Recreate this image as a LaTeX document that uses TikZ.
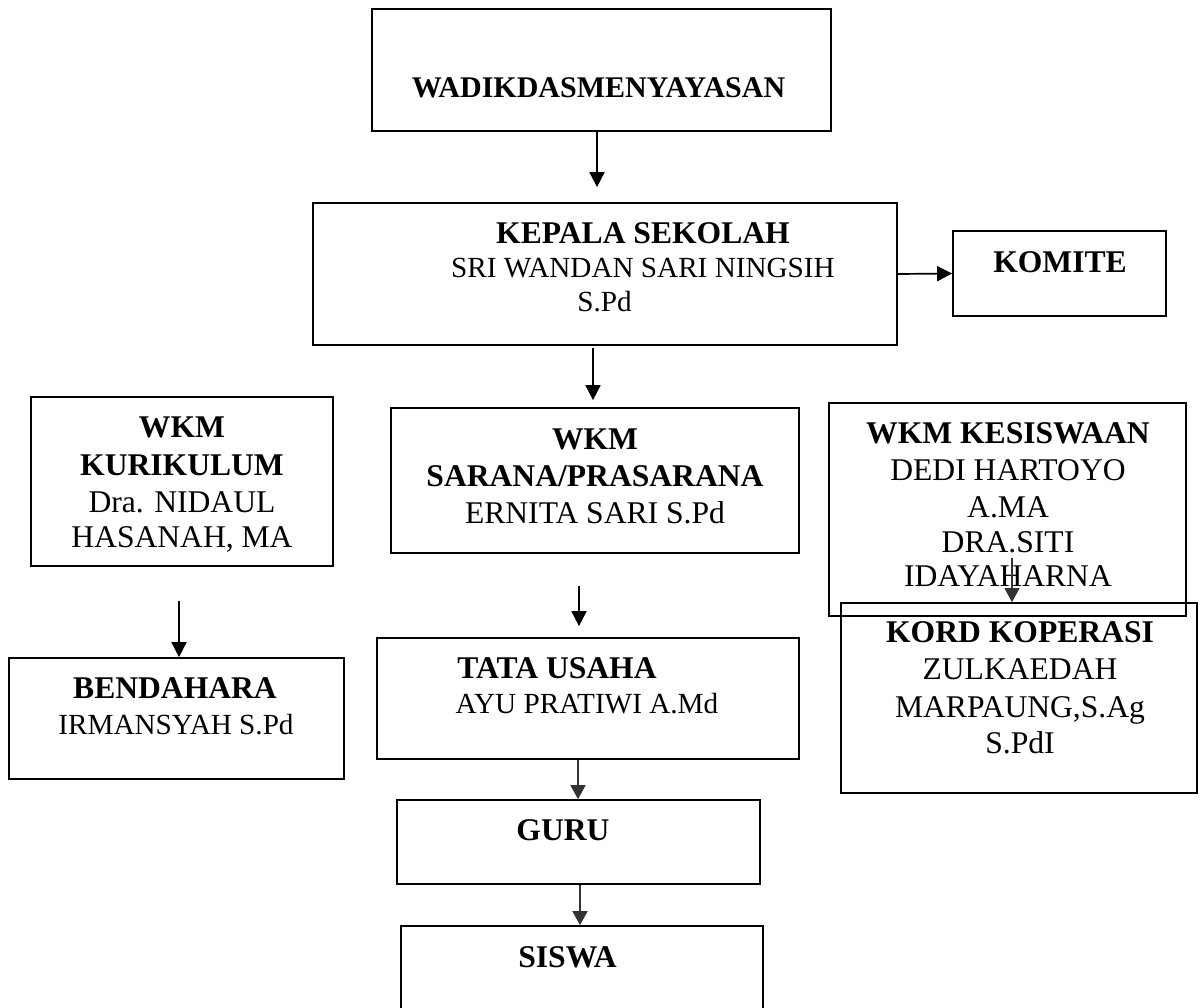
\documentclass[tikz,border=0pt]{standalone}
\usepackage{fontspec}
\setmainfont{Liberation Serif}
\usetikzlibrary{arrows.meta}
\begin{document}
\begin{tikzpicture}[x=0.5pt,y=-0.5pt,
  box/.style={draw, line width=0.85pt, inner sep=0pt, rectangle},
  arr/.style={line width=0.85pt, -{Triangle[length=7.5pt,width=7.5pt]}},
  arrg/.style={line width=0.85pt, draw=black!80, -{Triangle[length=7pt,width=7.5pt]}},
  tB/.style={anchor=base, inner sep=0pt, font=\fontsize{15.8}{19}\selectfont\bfseries},
  tR/.style={anchor=base, inner sep=0pt, font=\fontsize{15.8}{19}\selectfont},
  tS/.style={anchor=base, inner sep=0pt, font=\fontsize{14.6}{18}\selectfont},
  tW/.style={anchor=base, inner sep=0pt, font=\fontsize{15}{18}\selectfont\bfseries}]
\useasboundingbox (0,0) rectangle (1203,1007);
\clip (0,0) rectangle (1203,1007);
% boxes
\node[box, minimum width=229.5pt, minimum height=61pt] (wadik) at (601.5,70) {};
\node[box, minimum width=292pt, minimum height=71pt] (kepala) at (605,274) {};
\node[box, minimum width=106.5pt, minimum height=42.5pt] (komite) at (1059.5,273.5) {};
\node[box, minimum width=151pt, minimum height=84.5pt] (kur) at (182,481.5) {};
\node[box, minimum width=204pt, minimum height=72.5pt] (sarana) at (595,480.5) {};
\node[box, minimum width=178.5pt, minimum height=106.5pt] (kes) at (1007.5,509.5) {};
\node[box, minimum width=167.5pt, minimum height=60.5pt] (bend) at (176.5,718.5) {};
\node[box, minimum width=211pt, minimum height=60.5pt] (tata) at (588,698.5) {};
\node[box, minimum width=178pt, minimum height=95pt] (kord) at (1019,698) {};
\node[box, minimum width=181.5pt, minimum height=42pt] (guru) at (578.5,842) {};
\node[box, minimum width=181pt, minimum height=60pt] (siswa) at (582,986) {};
% texts
\node[tW] (tw1) at (598.5,97) {WADIKDASMENYAYASAN};
\node[tB] (tk1) at (643,243) {KEPALA SEKOLAH};
\node[tS] (tk2) at (643,277) {SRI WANDAN SARI NINGSIH};
\node[tS] (tk3) at (604.5,311) {S.Pd};
\node[tB] (tm1) at (1060,272) {KOMITE};
\node[tB] (tu1) at (182,437) {WKM};
\node[tB] (tu2) at (182,475) {KURIKULUM};
\node[tR] (tu3) at (182,512) {Dra. NIDAUL};
\node[tR] (tu4) at (182,547) {HASANAH, MA};
\node[tB] (tb1) at (175,698) {BENDAHARA};
\node[tS] (tb2) at (176,734) {IRMANSYAH S.Pd};
\node[tB] (ts1) at (595,449) {WKM};
\node[tB] (ts2) at (595,486) {SARANA/PRASARANA};
\node[tR] (ts3) at (595,523) {ERNITA SARI S.Pd};
\node[tB] (tt1) at (557,678) {TATA USAHA};
\node[tS] (tt2) at (587,713) {AYU PRATIWI A.Md};
\node[tB] (tg1) at (563,840) {GURU};
\node[tB] (tx1) at (567.5,967) {SISWA};
\node[tB] (te1) at (1008,443) {WKM KESISWAAN};
\node[tR] (te2) at (1008,480) {DEDI HARTOYO};
\node[tR] (te3) at (1008,517) {A.MA};
\node[tR] (te4) at (1008,552) {DRA.SITI};
\node[tR] (te5) at (1008,586) {IDAYAHARNA};
\node[tB] (tc1) at (1020,642) {KORD KOPERASI};
\node[tR] (tc2) at (1020,679) {ZULKAEDAH};
\node[tR] (tc3) at (1020,717) {MARPAUNG,S.Ag};
\node[tR] (tc4) at (1020,753) {S.PdI};
% connectors
\coordinate (x1) at (597,0);
\coordinate (x2) at (593,0);
\coordinate (x3) at (179,0);
\coordinate (x4) at (579,0);
\coordinate (x5) at (578,0);
\coordinate (x6) at (580,0);
\coordinate (k0) at (1012,558);
\draw[arr, shorten >=7.5pt] (wadik.south -| x1) -- (kepala.north -| x1);
\draw[arr] (kepala.east) -- (komite.west);
\draw[arr, shorten <=1pt, shorten >=3.5pt] (kepala.south -| x2) -- (sarana.north -| x2);
\draw[arr, shorten <=17pt] (kur.south -| x3) -- (bend.north -| x3);
\draw[arr, shorten <=16pt, shorten >=5.5pt] (sarana.south -| x4) -- (tata.north -| x4);
\draw[arrg] (tata.south -| x5) -- (guru.north -| x5);
\draw[arrg] (guru.south -| x6) -- (siswa.north -| x6);
\draw[arrg, line width=0.6pt] (k0) -- (kord.north -| k0);
\end{tikzpicture}
\end{document}
